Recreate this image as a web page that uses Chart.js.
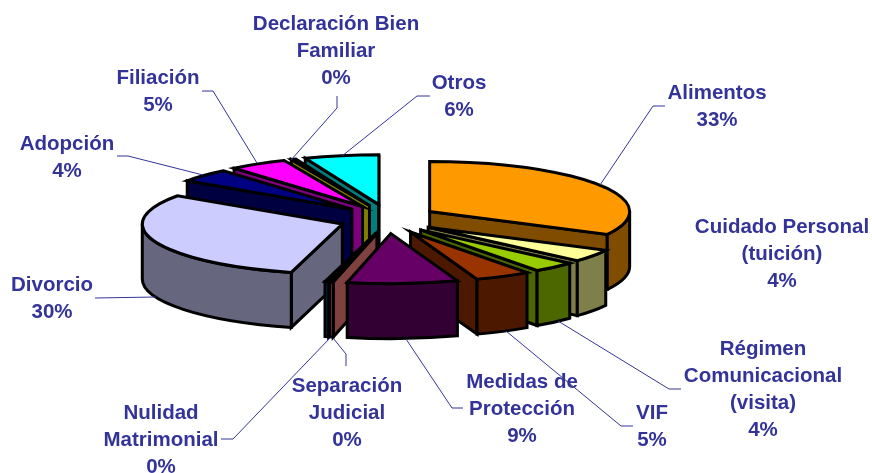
<!DOCTYPE html>
<html><head><meta charset="utf-8">
<style>html,body{margin:0;padding:0;background:#fff}canvas{display:block}</style>
<script src="https://cdn.jsdelivr.net/npm/chart.js@4"></script>
</head><body>
<canvas id="c" width="872" height="473"></canvas>
<script>
const categories = ['Alimentos','Cuidado Personal\n(tuición)','Régimen\nComunicacional\n(visita)','VIF','Medidas de\nProtección','Separación\nJudicial','Nulidad\nMatrimonial','Divorcio','Adopción','Filiación','Declaración Bien\nFamiliar','Otros'];
const values = [32.6,4,3.5,4.5,8.9,0.3,0.3,30.49,4.3,4.7,0.4,6];
const colors = ['#FF9900','#FFFF99','#99CC00','#993300','#660066','#FF8080','#0066CC','#CCCCFF','#000080','#FF00FF','#FFFF00','#00FFFF'];
const paintOrder = [11,10,9,8,7,0,1,2,3,6,5,4];
const labelAnchors = [[717,93],[782,227],[763,349],[652,413],[522,382],[347,386],[161,413],[52,285],[67,144],[158,78],[336,24],[459,83]];
const leaders = [
 [[665,106],[653,106],[600,185]],
 null,
 [[681,389],[669,389],[558,321]],
 [[633,426],[621,426],[506,331]],
 [[463,408],[452,408],[406,339]],
 [[346,366],[346,354],[333,338]],
 [[221,439],[233,439],[330,338]],
 [[95,298],[156,297]],
 [[117,156],[128,156],[203,175]],
 [[202,91],[213,91],[257,163]],
 [[337,96],[337,108],[291,160]],
 [[430,96],[417,96],[342,156]]
];
const TEXT = '#333399', SQUASH = 0.25, OFFSET_SQUASH = 0.3, DEPTH = 55, LINE_H = 27;

function halve(hex){
  const n = parseInt(hex.slice(1),16);
  return 'rgb('+((n>>16&255)>>1)+','+((n>>8&255)>>1)+','+((n&255)>>1)+')';
}
function shape(ctx, fill, build){
  ctx.beginPath(); build(); ctx.closePath();
  ctx.fillStyle = fill; ctx.fill();
  ctx.strokeStyle = '#000'; ctx.lineWidth = 3; ctx.lineJoin = 'miter'; ctx.stroke();
}
const pie3d = {
  id:'pie3d',
  beforeDatasetDraw(chart, args){
    const ctx = chart.ctx, arcs = args.meta.data;
    paintOrder.forEach(i=>{
      const a = arcs[i], r = a.outerRadius, a0 = a.startAngle, a1 = a.endAngle;
      const mid = (a0+a1)/2, off = a.options.offset/4;
      const ax = a.x + Math.cos(mid)*off;
      const ay = a.y + Math.sin(mid)*off*OFFSET_SQUASH;
      const px = t=>ax+r*Math.cos(t), py = t=>ay+r*SQUASH*Math.sin(t);
      const side = halve(colors[i]);
      ctx.save();
      const face = t=>shape(ctx, side, ()=>{
        ctx.moveTo(ax,ay); ctx.lineTo(px(t),py(t));
        ctx.lineTo(px(t),py(t)+DEPTH); ctx.lineTo(ax,ay+DEPTH);
      });
      if (Math.cos(a0) < -1e-6) face(a0);
      if (Math.cos(a1) > -1e-6) face(a1);
      const f0 = Math.max(a0,0), f1 = Math.min(a1,Math.PI);
      if (f1 > f0) shape(ctx, side, ()=>{
        ctx.ellipse(ax,ay,r,r*SQUASH,0,f0,f1,false);
        ctx.lineTo(px(f1),py(f1)+DEPTH);
        ctx.ellipse(ax,ay+DEPTH,r,r*SQUASH,0,f1,f0,true);
      });
      shape(ctx, colors[i], ()=>{
        ctx.moveTo(ax,ay);
        ctx.ellipse(ax,ay,r,r*SQUASH,0,a0,a1,false);
      });
      ctx.restore();
    });
    return false;
  },
  afterDatasetsDraw(chart){
    const ctx = chart.ctx;
    ctx.save();
    ctx.strokeStyle = TEXT; ctx.lineWidth = 1;
    leaders.forEach(l=>{
      if(!l) return;
      ctx.beginPath();
      l.forEach((p,k)=> k ? ctx.lineTo(p[0],p[1]) : ctx.moveTo(p[0],p[1]));
      ctx.stroke();
    });
    ctx.fillStyle = TEXT; ctx.textAlign='center'; ctx.textBaseline='middle';
    ctx.font = 'bold 20.5px "Liberation Sans", Arial, sans-serif';
    categories.forEach((c,i)=>{
      const lines = c.split('\n').concat(Math.round(values[i])+'%');
      lines.forEach((t,k)=>ctx.fillText(t,labelAnchors[i][0],labelAnchors[i][1]+k*LINE_H));
    });
    ctx.restore();
  }
};
new Chart(document.getElementById('c'),{
  type:'pie',
  data:{labels:categories,datasets:[{data:values,backgroundColor:colors,borderColor:'#000',borderWidth:0,offset:195}]},
  options:{
    responsive:false,animation:false,radius:200,
    layout:{padding:{left:0,right:96,top:0,bottom:35}},
    plugins:{legend:{display:false},tooltip:{enabled:false}},
    events:[]
  },
  plugins:[pie3d]
});
</script>
</body></html>
